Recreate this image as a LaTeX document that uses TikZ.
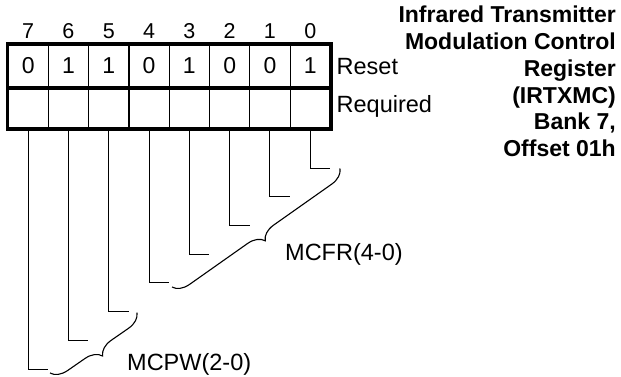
\documentclass[tikz,border=0pt]{standalone}
\usepackage{fontspec}
\setmainfont{Liberation Sans}
\usetikzlibrary{decorations.pathreplacing}
\begin{document}
\begin{tikzpicture}[x=1pt,y=-1pt,
  cell/.style={draw, line width=1.2pt, minimum width=40.3pt, inner sep=0pt,
    font=\fontsize{23}{23}\selectfont},
  thickb/.style={line width=3.5pt, line cap=rect},
  bitnum/.style={inner sep=0pt, anchor=base, font=\fontsize{21.5}{21.5}\selectfont},
  side/.style={inner sep=0pt, anchor=base west, font=\fontsize{23.5}{23.5}\selectfont},
  lab/.style={inner sep=0pt, anchor=base west, font=\fontsize{23.5}{23.5}\selectfont},
  ttl/.style={inner sep=0pt, anchor=base east, font=\fontsize{23}{23}\selectfont\bfseries},
  conn/.style={line width=1pt},
  bracestyle/.style={line width=1.1pt, decorate, decoration={brace, amplitude=16pt}}]
\useasboundingbox (0,0) rectangle (621,377);
\foreach \v [count=\j from 0] in {0,1,1,0,1,0,0,1}{
  \pgfmathsetmacro{\xx}{8+40.3*\j+20.15}
  \pgfmathtruncatemacro{\bit}{7-\j}
  \pgfmathsetmacro{\yy}{369-28.7*\j}
  \node[cell, minimum height=43pt] (rs\j) at (\xx,66) {\v};
  \node[cell, minimum height=41pt] (rq\j) at (\xx,108) {};
  \node[bitnum] (b\j) at (\xx,39) {\bit};
  \coordinate (e\j) at (\xx+20,\yy);
  \draw[conn] (rq\j.south) |- (e\j);
}
\draw[thickb] (rs0.north west) rectangle (rq7.south east);
\draw[thickb] (rs0.south west) -- (rs7.south east);
\node[side] (reset) at (336.5,75) {Reset};
\node[side] (req) at (336.5,113) {Required};
\coordinate (fra) at (340,168.5);
\coordinate (frb) at (172,287);
\coordinate (pwa) at (137,312.7);
\coordinate (pwb) at (50,373);
\draw[bracestyle] (fra) -- (frb);
\draw[bracestyle] (pwa) -- (pwb);
\node[lab] (mcfr) at (285,260) {MCFR(4-0)};
\node[lab] (mcpw) at (127,370) {MCPW(2-0)};
\node[ttl] (t1) at (616,23) {Infrared Transmitter};
\node[ttl] (t2) at (616,49.7) {Modulation Control};
\node[ttl] (t3) at (616,76.4) {Register};
\node[ttl] (t4) at (616,103.1) {(IRTXMC)};
\node[ttl] (t5) at (616,129.8) {Bank 7,};
\node[ttl] (t6) at (616,156.5) {Offset 01h};
\end{tikzpicture}
\end{document}
